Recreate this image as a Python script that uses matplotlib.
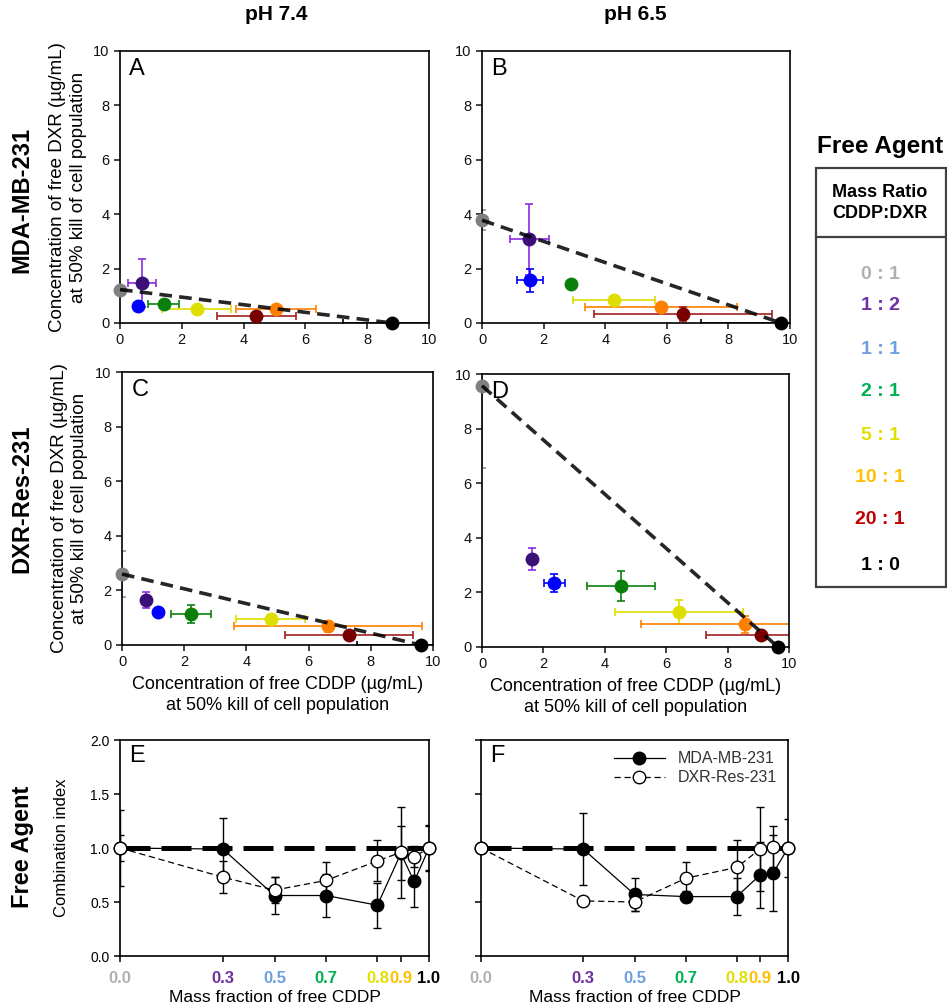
import numpy as np
import matplotlib
matplotlib.use('Agg')
import matplotlib.pyplot as plt
from matplotlib.patches import Rectangle
from matplotlib.lines import Line2D

plt.rcParams['font.family'] = ['Liberation Sans', 'DejaVu Sans']

# ratio groups CDDP:DXR
ratios = ['0 : 1', '1 : 2', '1 : 1', '2 : 1', '5 : 1', '10 : 1', '20 : 1', '1 : 0']
mark_cols = ['#808080', '#3d0f78', '#0000ff', '#0a800a', '#dede00', '#ff8000', '#7a0000', '#000000']
err_cols = ['#909090', '#8a2be2', '#0000ff', '#0a800a', '#dede00', '#ff8000', '#a02020', '#000000']
label_cols = ['#b0b0b0', '#7030a0', '#6f9fe0', '#00b050', '#e0e000', '#ffc000', '#c00000', '#000000']

# panel A: MDA-MB-231, pH 7.4
a_x = [0, 0.71, 0.57, 1.41, 2.48, 5.05, 4.41, 8.81]
a_y = [1.23, 1.48, 0.61, 0.71, 0.52, 0.52, 0.25, 0]
a_xerr = [0, 0.44, 0.1, 0.5, 1.12, 1.29, 1.28, 1.6]
a_yerr = [0.1, 0.88, 0.1, 0.08, 0.05, 0.1, 0.05, 0]
# panel B: MDA-MB-231, pH 6.5
b_x = [0, 1.54, 1.57, 2.89, 4.29, 5.82, 6.52, 9.71]
b_y = [3.78, 3.08, 1.57, 1.42, 0.86, 0.59, 0.34, 0]
b_xerr = [0, 0.64, 0.42, 0.1, 1.32, 2.47, 2.88, 2.6]
b_yerr = [0.37, 1.3, 0.42, 0.1, 0.1, 0.1, 0.25, 0]
# panel C: DXR-Res-231, pH 7.4
c_x = [0, 0.77, 1.16, 2.22, 4.78, 6.63, 7.30, 9.60]
c_y = [2.60, 1.64, 1.20, 1.14, 0.95, 0.68, 0.37, 0]
c_xerr = [0, 0.1, 0.1, 0.63, 1.12, 3.03, 2.07, 2.03]
c_yerr = [0.86, 0.3, 0.1, 0.33, 0.1, 0.2, 0.1, 0]
# panel D: DXR-Res-231, pH 6.5
d_x = [0, 1.63, 2.36, 4.52, 6.41, 8.56, 9.10, 9.64]
d_y = [9.57, 3.22, 2.35, 2.23, 1.29, 0.83, 0.45, 0]
d_xerr = [0, 0.1, 0.33, 1.11, 2.08, 3.39, 1.81, 0]
d_yerr = [3.0, 0.4, 0.32, 0.55, 0.44, 0.3, 0.1, 0]

# combination index vs mass fraction of free CDDP
frac = [0, 0.333, 0.5, 0.667, 0.833, 0.909, 0.952, 1.0]
frac_ticks = [0, 0.333, 0.5, 0.667, 0.833, 0.909, 1.0]
frac_labels = ['0.0', '0.3', '0.5', '0.7', '0.8', '0.9', '1.0']
frac_label_cols = ['#b0b0b0', '#7030a0', '#6f9fe0', '#00b050', '#e0e000', '#ffc000', '#000000']
e_mda = [1.0, 0.99, 0.56, 0.56, 0.47, 0.95, 0.69, 1.0]
e_mda_err = [0.35, 0.29, 0.17, 0.2, 0.21, 0.25, 0.24, 0.21]
e_res = [1.0, 0.73, 0.61, 0.70, 0.88, 0.96, 0.92, 1.0]
e_res_err = [0.12, 0.15, 0.12, 0.17, 0.19, 0.42, 0.1, 0.2]
f_mda = [1.0, 0.99, 0.57, 0.55, 0.55, 0.75, 0.77, 1.0]
f_mda_err = [0.05, 0.33, 0.15, 0.05, 0.17, 0.31, 0.35, 0.27]
f_res = [1.0, 0.51, 0.50, 0.72, 0.82, 0.99, 1.01, 1.0]
f_res_err = [0.05, 0.03, 0.08, 0.15, 0.25, 0.39, 0.19, 0.05]

W, H = 947, 1008
fig = plt.figure(figsize=(W / 100, H / 100), dpi=100)


def box(l, t, r, b):
    return [l / W, 1 - b / H, (r - l) / W, (b - t) / H]


axA = fig.add_axes(box(120, 51, 429, 323))
axB = fig.add_axes(box(482, 51, 790, 323))
axC = fig.add_axes(box(122, 372, 433, 645))
axD = fig.add_axes(box(482, 374, 789, 647))
axE = fig.add_axes(box(120, 740, 429, 956))
axF = fig.add_axes(box(481, 740, 788, 956))


def iso_panel(ax, x, y, xerr, yerr, letter):
    for i in range(len(x)):
        ax.errorbar(x[i], y[i], xerr=xerr[i], yerr=yerr[i], fmt='none',
                    ecolor=err_cols[i], elinewidth=1.2, capsize=3, capthick=1.2, zorder=2)
        ax.plot(x[i], y[i], 'o', color=mark_cols[i], ms=10, mec='none', zorder=3, clip_on=False)
    ax.plot([x[0], x[-1]], [y[0], y[-1]], color='black', lw=2.6, dashes=(3.5, 2), zorder=4,
            alpha=0.85, clip_on=False)
    ax.set_xlim(0, 10)
    ax.set_ylim(0, 10)
    ax.set_xticks(range(0, 11, 2))
    ax.set_yticks(range(0, 11, 2))
    ax.tick_params(labelsize=10.5, width=1.1, length=4, colors='#111111')
    for s in ax.spines.values():
        s.set_linewidth(1.2)
    ax.text(0.03, 0.975, letter, transform=ax.transAxes, ha='left', va='top', fontsize=17)


iso_panel(axA, a_x, a_y, a_xerr, a_yerr, 'A')
iso_panel(axB, b_x, b_y, b_xerr, b_yerr, 'B')
iso_panel(axC, c_x, c_y, c_xerr, c_yerr, 'C')
iso_panel(axD, d_x, d_y, d_xerr, d_yerr, 'D')

ylab = 'Concentration of free DXR (\u00b5g/mL)\nat 50% kill of cell population'
xlab = 'Concentration of free CDDP (\u00b5g/mL)\nat 50% kill of cell population'
for ax in (axA, axC):
    ax.set_ylabel(ylab, fontsize=13.5, linespacing=1.3)
    ax.yaxis.set_label_coords(-0.108, 0.5)
for ax in (axC, axD):
    ax.set_xlabel(xlab, fontsize=13, linespacing=1.3)
    ax.xaxis.set_label_coords(0.5, -0.115)


def ci_panel(ax, mda, mda_err, res, res_err, letter, ylabels):
    ax.plot([0, 1], [1, 1], color='black', lw=3.6, dashes=(6, 2.2), zorder=1)
    ax.errorbar(frac, mda, yerr=mda_err, fmt='none', ecolor='black', elinewidth=1,
                capsize=3, zorder=2)
    ax.errorbar(frac, res, yerr=res_err, fmt='none', ecolor='black', elinewidth=1,
                capsize=3, zorder=2)
    ax.plot(frac, mda, '-o', color='black', lw=0.9, ms=9, mfc='black', mec='black',
            zorder=3, clip_on=False, label='MDA-MB-231')
    ax.plot(frac, res, 'o', color='black', ls=(0, (5, 3)), lw=0.9, ms=9, mfc='white',
            mec='black', zorder=4, clip_on=False, label='DXR-Res-231')
    ax.set_xlim(0, 1)
    ax.set_ylim(0, 2)
    ax.set_yticks([0, 0.5, 1.0, 1.5, 2.0])
    ax.set_xticks(frac_ticks)
    ax.set_xticklabels(frac_labels, fontsize=12, fontweight='bold')
    for lab, col in zip(ax.get_xticklabels(), frac_label_cols):
        lab.set_color(col)
    ax.tick_params(axis='y', labelsize=10, width=1.1, length=4)
    ax.tick_params(axis='x', width=1.1, length=4, pad=7)
    if ylabels:
        ax.set_yticklabels(['0.0', '0.5', '1.0', '1.5', '2.0'])
    else:
        ax.set_yticklabels([])
    for s in ax.spines.values():
        s.set_linewidth(1.2)
    ax.set_xlabel('Mass fraction of free CDDP', fontsize=12.5, labelpad=3)
    ax.text(0.03, 0.975, letter, transform=ax.transAxes, ha='left', va='top', fontsize=17)


ci_panel(axE, e_mda, e_mda_err, e_res, e_res_err, 'E', True)
ci_panel(axF, f_mda, f_mda_err, f_res, f_res_err, 'F', False)
axE.set_ylabel('Combination index', fontsize=12)
axE.yaxis.set_label_coords(-0.165, 0.5)

handles = [Line2D([], [], color='black', lw=0.9, marker='o', ms=9, mfc='black'),
           Line2D([], [], color='black', lw=0.9, ls=(0, (5, 3)), marker='o', ms=9, mfc='white')]
axF.legend(handles, ['MDA-MB-231', 'DXR-Res-231'], loc='upper right', frameon=False,
           fontsize=11.5, handlelength=3.2, labelcolor='#333333', borderaxespad=0.3,
           labelspacing=0.25)

# column and row headings
fig.text(276 / W, 1 - 15 / H, 'pH 7.4', ha='center', va='center', fontsize=15, fontweight='bold')
fig.text(635 / W, 1 - 15 / H, 'pH 6.5', ha='center', va='center', fontsize=15, fontweight='bold')
fig.text(22 / W, 1 - 200 / H, 'MDA-MB-231', rotation=90, ha='center', va='center',
         fontsize=17, fontweight='bold')
fig.text(22 / W, 1 - 499 / H, 'DXR-Res-231', rotation=90, ha='center', va='center',
         fontsize=17, fontweight='bold')
fig.text(22 / W, 1 - 847 / H, 'Free Agent', rotation=90, ha='center', va='center',
         fontsize=17, fontweight='bold')

# key box on the right
fig.text(880 / W, 1 - 146 / H, 'Free Agent', ha='center', va='center', fontsize=17.5,
         fontweight='bold')
fig.patches.append(Rectangle((816 / W, 1 - 587 / H), 130 / W, 419 / H, transform=fig.transFigure,
                             fill=False, ec='#404040', lw=1.6))
fig.add_artist(Line2D([816 / W, 946 / W], [1 - 237 / H, 1 - 237 / H], transform=fig.transFigure,
                      color='#404040', lw=1.6))
fig.text(880 / W, 1 - 203 / H, 'Mass Ratio\nCDDP:DXR', ha='center', va='center', fontsize=13,
         fontweight='bold', linespacing=1.25)
key_y = [275, 305, 350, 392, 435, 478, 520, 565]
for r, yy, col in zip(ratios, key_y, label_cols):
    fig.text(880 / W, 1 - yy / H, r, ha='center', va='center', fontsize=14, fontweight='bold',
             color=col)

fig.savefig('out.png', dpi=100)
